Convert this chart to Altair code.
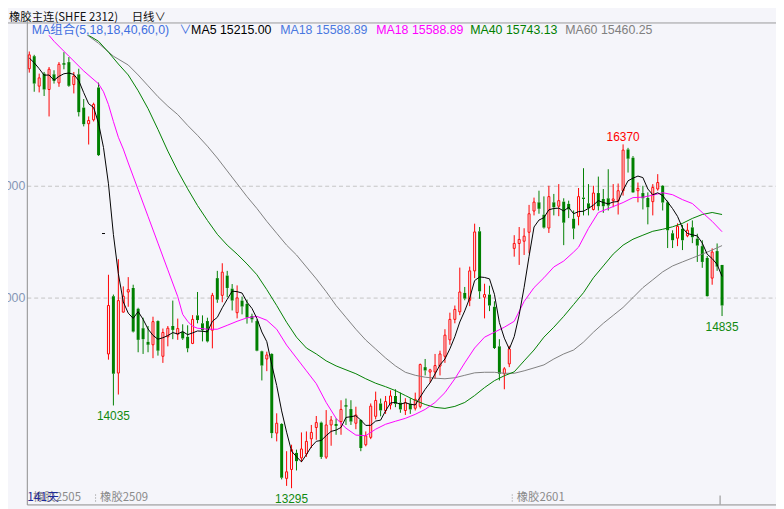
import altair as alt
import numpy as np
import pandas as pd

BG = "#f5f5fa"
UP = "#ff0000"
DOWN = "#008000"
LAT = "Liberation Sans, Noto Sans CJK SC, sans-serif"
CJK = "Noto Sans CJK SC, Liberation Sans, sans-serif"

# ---------------- candle data (index 1..141) ----------------
opens = [17047,17159,16891,17003,16861,16997,16920,17097,17106,16905,
         16997,16699,16555,16590,16879,15573,14496,15012,14325,14870,
         15050,15086,14900,14726,14604,14578,14790,14475,14649,14746,
         14673,14693,14649,14590,14841,14770,14790,14708,15174,15020,
         15197,15080,14865,14973,14944,14835,14790,14520,14451,14496,
         13788,13870,13383,13463,13611,13566,13602,13737,13838,13882,
         13573,13861,13870,13891,14038,14003,13876,13905,13684,13750,
         13938,14053,13990,14040,14120,14060,13990,14050,14010,14027,
         14378,14334,14334,14387,14475,14622,14805,14873,15042,14976,
         15239,15593,15003,15027,14918,14564,14319,14407,15440,15484,
         15504,15584,15774,15852,15741,15622,15852,15817,15858,15838,
         15705,15726,15894,15843,15788,15935,15882,15888,15867,15867,
         15956,16325,16251,15956,15935,15891,15858,15971,16000,15852,
         15575,15531,15615,15553,15628,15527,15460,15354,15174,15416,
         15292]
highs = [17201,17171,17003,17018,17062,17033,17106,17195,17151,17018,
         17047,16776,16620,16743,16923,15573,15204,15027,15343,15100,
         15183,15115,14909,14820,14746,14829,14796,14723,14746,14973,
         14812,14761,14752,14843,15050,14841,14820,15042,15239,15307,
         15239,15121,15109,15009,14982,14856,14805,14525,14516,14502,
         13965,13876,13626,13684,13640,13794,13803,13861,13941,13891,
         13994,13941,13920,14082,14097,14082,14024,13911,13803,14053,
         14159,14097,14120,14170,14180,14150,14100,14100,14150,14410,
         14451,14363,14496,14525,14717,14865,14929,15268,15095,15277,
         15661,15631,15124,15106,14967,14628,14378,14569,15558,15631,
         15620,15829,15894,15956,15905,16000,15927,16015,15888,15867,
         15779,15980,16157,16015,16000,16082,15971,16148,16015,16020,
         16370,16339,16266,16029,16000,15941,16015,16104,16006,15867,
         15602,15664,15650,15664,15690,15571,15513,15372,15440,15484,
         15292]
lows = [17012,16841,16835,16803,16620,16914,16885,17042,16885,16826,
        16620,16531,16369,16575,16266,15573,14445,14035,14133,14865,
        14918,14688,14511,14496,14511,14458,14481,14416,14564,14628,
        14622,14622,14511,14584,14770,14608,14599,14546,14953,14958,
        15003,14885,14814,14850,14767,14776,14520,14259,14342,13743,
        13714,13374,13316,13295,13454,13528,13575,13655,13728,13557,
        13557,13675,13773,13773,13861,13861,13823,13626,13670,13734,
        13911,13938,13960,14000,14020,13970,13950,13960,13990,14009,
        14304,14239,14274,14304,14416,14578,14770,14843,14976,14923,
        15174,14989,14814,14879,14540,14259,14180,14378,15366,15292,
        15381,15396,15735,15750,15617,15578,15735,15728,15469,15711,
        15522,15646,15735,15735,15779,15779,15758,15779,15808,15743,
        15912,16118,15936,15852,15788,15655,15735,15956,15779,15443,
        15443,15460,15425,15540,15487,15319,15266,15009,15115,15239,
        14835]
closes = [17171,16914,16965,16861,17042,16938,17086,17082,16894,16980,
          16658,16551,16584,16728,16274,15573,14929,14319,14973,15012,
          15071,14696,14622,14628,14578,14785,14525,14688,14726,14711,
          14723,14635,14546,14805,14799,14708,14608,15020,14982,15227,
          15086,14973,14997,14920,14820,14805,14525,14392,14487,13788,
          13876,13389,13442,13640,13537,13646,13714,13794,13882,13575,
          13861,13905,13852,14000,14024,13891,13950,13655,13764,14029,
          14080,13991,14070,14120,14050,14000,14060,14000,14090,14401,
          14348,14354,14392,14496,14664,14805,14894,15050,14991,15239,
          15587,15056,15027,14929,14549,14319,14363,14540,15484,15520,
          15549,15750,15854,15794,15626,15903,15808,15867,15670,15788,
          15617,15903,15882,15799,15935,15817,15817,15823,15882,15956,
          16319,16242,15941,15976,15888,15808,15985,16029,15850,15602,
          15513,15637,15513,15602,15540,15465,15319,15013,15407,15277,
          14929]

# MA5 values of the first four bars (their windows start before the visible range)
ma5_first4 = [17142, 17100, 17047, 16989]

# moving averages (bar index, value)
ma18_i = [1,5,6,9,12,15,16,17,18,19,20,21,23,25,27,29,31,32,33,34,35,37,39,41,43,45,47,49,51,53,
          55,57,59,61,63,65,67,69,71,73,75,77,79,81,83,85,87,89,91,93,95,97,99,101,103,105,107,109,111,112,
          114,116,118,120,121,123,125,127,129,131,133,135,137,139,141]
ma18_v = [17549,17345,17292,17159,17027,16912,16841,16726,16575,16434,16328,16204,15965,15726,15487,
          15248,15009,14850,14788,14743,14726,14717,14717,14752,14788,14819,14832,14797,14717,14575,
          14460,14345,14230,14062,13920,13832,13770,13765,13823,13867,13894,13920,13956,14000,14062,
          14150,14274,14416,14549,14646,14690,14735,14788,14965,15089,15177,15274,15327,15407,15451,
          15619,15761,15796,15832,15850,15894,15898,15916,15938,15920,15876,15841,15761,15682,15589]
ma40_i = [1,12,15,17,19,21,23,25,27,29,31,33,35,37,39,41,43,45,47,49,51,53,55,57,59,61,63,65,67,69,
          71,73,75,77,79,81,83,85,87,89,91,93,95,97,99,101,103,105,107,109,111,113,115,117,119,121,123,
          125,127,129,131,133,135,137,139,141]
ma40_v = [17487,17372,17292,17195,17089,16991,16850,16690,16504,16310,16133,15973,15823,15690,15566,
          15469,15389,15301,15204,15071,14929,14779,14646,14549,14496,14434,14389,14354,14319,14274,
          14234,14203,14168,14124,14080,14044,14018,14009,14027,14062,14124,14195,14257,14301,14336,
          14434,14531,14646,14735,14832,14938,15044,15177,15283,15389,15469,15522,15558,15593,15611,
          15633,15664,15708,15743,15761,15743]
ma60_i = [1,12,15,18,21,23,25,27,29,31,33,35,37,39,41,43,45,47,49,51,53,55,57,59,61,63,65,67,69,71,
          73,75,77,79,81,83,85,87,89,91,93,95,97,99,101,103,105,107,109,111,113,115,117,119,121,123,125,
          127,129,131,133,135,137,139,141]
ma60_v = [17620,17372,17274,17159,17080,16991,16894,16797,16712,16637,16540,16451,16354,16248,16133,
          16018,15903,15797,15682,15575,15469,15381,15274,15168,15053,14929,14823,14717,14620,14540,
          14460,14389,14332,14305,14288,14279,14274,14283,14305,14327,14332,14332,14323,14323,14345,
          14371,14398,14451,14496,14531,14602,14690,14770,14841,14912,15000,15089,15159,15230,15283,
          15319,15354,15389,15425,15465]

# texts
title_text = "橡胶主连(SHFE 2312)"
period_text = "日线∨"
legend_names = ["MA组合(5,18,18,40,60,0)", "∨", "MA5 15215.00", "MA18 15588.89", "MA18 15588.89",
                "MA40 15743.13", "MA60 15460.25"]
legend_colors = ["#3f6fe0", "#3f6fe0", "#000000", "#4a78e0", "#ff00ff", "#008000", "#808080"]
legend_px = [5, 154, 166, 256, 353, 448, 544]
contracts = ["橡胶2505", "橡胶2509", "橡胶2601"]
contract_start = [0.85, 14.4, 98.6]
days_text = "141天"
extreme_hi = [(121, 16370)]
extreme_lo = [(141, 14835), (54, 13295), (18, 14035)]

# ---------------- build tables ----------------
df = pd.DataFrame({"i": np.arange(1, len(opens) + 1), "open": opens, "high": highs,
                   "low": lows, "close": closes})
df["top"] = df[["open", "close"]].max(axis=1)
df["bot"] = df[["open", "close"]].min(axis=1)
df["dir"] = np.where(df.close > df.open, "up", np.where(df.close < df.open, "down", "flat"))
df["gx1"] = df.i - 0.3
df["gx2"] = df.i + 0.3
df["rx1"] = df.i - 0.2
df["rx2"] = df.i + 0.2
ma5 = df.close.rolling(5).mean()
ma5.iloc[:4] = ma5_first4
ma5_df = pd.DataFrame({"i": df.i, "v": ma5})
ma18_df = pd.DataFrame({"i": ma18_i, "v": ma18_v})
ma40_df = pd.DataFrame({"i": ma40_i, "v": ma40_v})
ma60_df = pd.DataFrame({"i": ma60_i, "v": ma60_v})
hi_df = pd.DataFrame(extreme_hi, columns=["i", "v"])
lo_df = pd.DataFrame(extreme_lo, columns=["i", "v"])
ct_df = pd.DataFrame({"i": contract_start, "name": contracts})

XS = alt.Scale(domain=[0.5, 151.9], nice=False, zero=False)
YS = alt.Scale(domain=[13150, 17496], nice=False, zero=False)
CS = alt.Scale(domain=["up", "down", "flat"], range=[UP, DOWN, "#000000"])

x_axis = alt.Axis(labels=False, ticks=False, grid=False, domainColor="#8c8c8c", title=None)
y_axis = alt.Axis(values=[15000, 16000], format="d", title=None, ticks=False, tickSize=0,
                  labelPadding=2, labelColor="#8597b5", labelFont="Liberation Sans",
                  labelFontSize=12.5, domainColor="#8c8c8c", grid=True, gridColor="#c4c4c4",
                  gridDash=[4, 3], gridWidth=1)


def X(field):
    return alt.X(field, scale=XS, axis=x_axis)


def Y(field):
    return alt.Y(field, scale=YS, axis=y_axis)


base = alt.Chart(df)
wick_hi = base.mark_rule(strokeWidth=1).encode(
    x=X("i:Q"), y=Y("high:Q"), y2="top:Q",
    color=alt.Color("dir:N", scale=CS, legend=None))
wick_lo = base.mark_rule(strokeWidth=1).encode(
    x=X("i:Q"), y=Y("bot:Q"), y2="low:Q",
    color=alt.Color("dir:N", scale=CS, legend=None))
body_dn = base.transform_filter(alt.datum.dir == "down").mark_rect(color=DOWN).encode(
    x=X("gx1:Q"), x2="gx2:Q", y=Y("open:Q"), y2="close:Q")
body_up = base.transform_filter(alt.datum.dir == "up").mark_rect(
    fill=BG, stroke=UP, strokeWidth=1).encode(
    x=X("rx1:Q"), x2="rx2:Q", y=Y("open:Q"), y2="close:Q")
body_flat = base.transform_filter(alt.datum.dir == "flat").mark_rule(
    color="#000000", strokeWidth=1).encode(
    x=X("gx1:Q"), x2="gx2:Q", y=Y("open:Q"))


def ma_line(d, color):
    return alt.Chart(d).mark_line(color=color, strokeWidth=1, clip=True).encode(
        x=X("i:Q"), y=Y("v:Q"))


lines = [ma_line(ma60_df, "#808080"), ma_line(ma40_df, "#008000"),
         ma_line(ma18_df, "#ff00ff"), ma_line(ma5_df, "#000000")]

one = pd.DataFrame({"a": [0]})


def label(txt, px, py, color, size=12, font=LAT, align="left", baseline="alphabetic"):
    return alt.Chart(one).mark_text(text=txt, align=align, baseline=baseline, font=font,
                                    fontSize=size, color=color).encode(
        x=alt.value(px), y=alt.value(py))


legend_bg = alt.Chart(one).mark_rect(fill=BG).encode(
    x=alt.value(4), x2=alt.value(640), y=alt.value(0.5), y2=alt.value(17))
top_border = alt.Chart(one).mark_rule(color="#9a9a9a", strokeWidth=1).encode(
    x=alt.value(-19), x2=alt.value(757), y=alt.value(4.5))

texts = [label(title_text, -18, 2.5, "#111111", 11.5, CJK),
         label(period_text, 106, 2.5, "#111111", 11.5, CJK)]
for name, col, px in zip(legend_names, legend_colors, legend_px):
    texts.append(label(name, px, 15.5, col, 12.5, LAT))

hi_text = alt.Chart(hi_df).mark_text(color="#ff0000", font=LAT, fontSize=12, baseline="alphabetic",
                                     dy=-3).encode(
    x=X("i:Q"), y=Y("v:Q"), text="v:Q")
lo_text = alt.Chart(lo_df).mark_text(color="#108a10", font=LAT, fontSize=12, baseline="top",
                                     dy=6).encode(
    x=X("i:Q"), y=Y("v:Q"), text="v:Q")

ct_text = alt.Chart(ct_df).mark_text(color="#8a8a8a", font=CJK, fontSize=11.5, align="left",
                                     baseline="alphabetic", dx=4.5).encode(
    x=X("i:Q"), y=alt.value(488), text="name:N")
ct_sep = alt.Chart(ct_df.iloc[1:]).mark_rule(color="#8a8a8a", strokeWidth=1, strokeDash=[1, 2]).encode(
    x=X("i:Q"), y=alt.value(481), y2=alt.value(490))
end_tick = alt.Chart(one).mark_rule(color="#8a8a8a", strokeWidth=1).encode(
    x=alt.value(700.5), y=alt.value(482), y2=alt.value(491))
days = label(days_text, 0.5, 488, "#1f2a99", 12, CJK)

chart = alt.layer(
    wick_hi, wick_lo, body_dn, body_up, body_flat, *lines,
    legend_bg, top_border, *texts, hi_text, lo_text, ct_text, ct_sep, end_tick, days
).properties(
    width=757, height=491,
    autosize=alt.AutoSizeParams(type="none"),
    padding={"left": 19, "top": 8, "right": 0, "bottom": 2},
    background=BG,
).configure_view(stroke=None)

chart.save("out.html", embed_options={"renderer": "svg", "actions": False})
